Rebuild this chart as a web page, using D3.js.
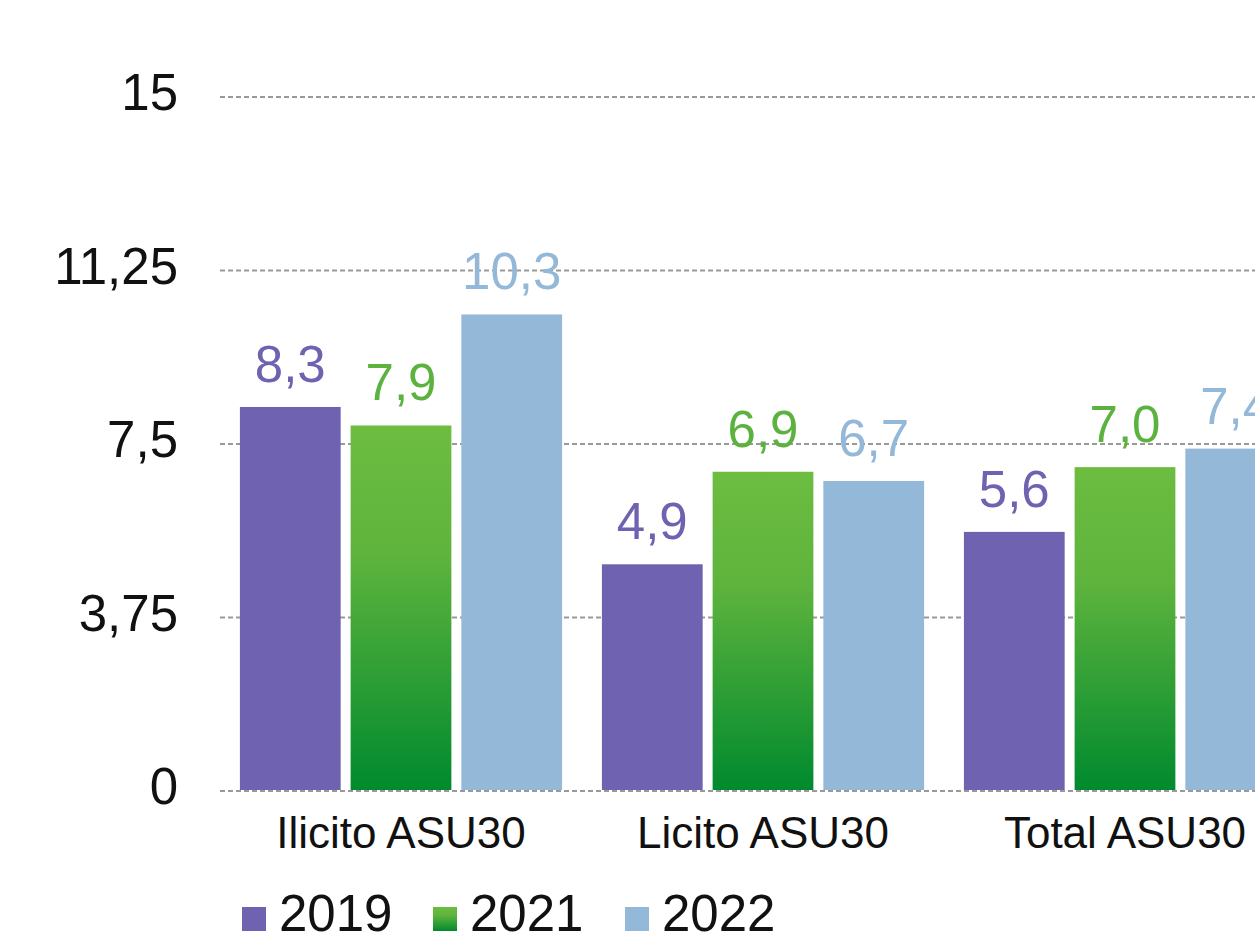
<!DOCTYPE html>
<html>
<head>
<meta charset="utf-8">
<script src="https://cdn.jsdelivr.net/npm/d3@7/dist/d3.min.js"></script>
<style>
  html, body { margin: 0; padding: 0; background: #fff; overflow: hidden; }
  text { font-family: "Liberation Sans", Arial, Helvetica, sans-serif; }
</style>
</head>
<body>
<div id="chart"></div>
<script>
// data
var categories = ["Ilicito ASU30", "Licito ASU30", "Total ASU30"];
var years = ["2019", "2021", "2022"];
var values2019 = [8.3, 4.9, 5.6];
var values2021 = [7.9, 6.9, 7.0];
var values2022 = [10.3, 6.7, 7.4];
var yTicks = [0, 3.75, 7.5, 11.25, 15];

var width = 1255, height = 934;
var fmt = d => String(d).replace(".", ",");
var fmt1 = d => d.toFixed(1).replace(".", ",");

var series = {"2019": values2019, "2021": values2021, "2022": values2022};
var colors = {"2019": "#6f62b0", "2021": "url(#greenGrad)", "2022": "#94b8d8"};
var textColors = {"2019": "#6f62b0", "2021": "#5cb23f", "2022": "#94b8d8"};

var rows = categories.map((c, i) => ({
    cat: c,
    vals: years.map(y => ({year: y, value: series[y][i]}))
}));

const svg = d3.select("#chart").append("svg")
    .attr("width", width)
    .attr("height", height);

const defs = svg.append("defs");
const grad = defs.append("linearGradient")
    .attr("id", "greenGrad")
    .attr("x1", 0).attr("y1", 0).attr("x2", 0).attr("y2", 1);
grad.append("stop").attr("offset", "0%").attr("stop-color", "#6cbd40");
grad.append("stop").attr("offset", "35%").attr("stop-color", "#5fb43d");
grad.append("stop").attr("offset", "100%").attr("stop-color", "#008a2e");

const y = d3.scaleLinear().domain([0, 15]).range([791, 97]);
const x0 = d3.scaleBand().domain(categories).range([220, 1306])
    .paddingInner(0.11).paddingOuter(0.055);
const x1 = d3.scaleBand().domain(years).range([0, x0.bandwidth()])
    .paddingInner(0.09).paddingOuter(0);

// grid
svg.append("g").selectAll("line")
    .data(yTicks)
    .join("line")
    .attr("x1", 220).attr("x2", width)
    .attr("y1", d => y(d)).attr("y2", d => y(d))
    .attr("stroke", "#999")
    .attr("stroke-width", 2)
    .attr("stroke-dasharray", "5,3");

// y tick labels
svg.append("g").selectAll("text")
    .data(yTicks)
    .join("text")
    .attr("x", 178)
    .attr("y", d => y(d) + 13)
    .attr("text-anchor", "end")
    .attr("font-size", 51)
    .attr("fill", "#111")
    .text(fmt);

// bars
const grp = svg.append("g").selectAll("g")
    .data(rows)
    .join("g")
    .attr("transform", d => `translate(${x0(d.cat)},0)`);

grp.selectAll("rect")
    .data(d => d.vals)
    .join("rect")
    .attr("x", d => x1(d.year))
    .attr("y", d => y(d.value))
    .attr("width", x1.bandwidth())
    .attr("height", d => y(0) - y(d.value) - 1)
    .attr("fill", d => colors[d.year]);

grp.selectAll("text.val")
    .data(d => d.vals)
    .join("text")
    .attr("class", "val")
    .attr("x", d => x1(d.year) + x1.bandwidth() / 2)
    .attr("y", d => y(d.value) - 25)
    .attr("text-anchor", "middle")
    .attr("font-size", 51)
    .attr("fill", d => textColors[d.year])
    .text(d => fmt1(d.value));

// category labels
svg.append("g").selectAll("text")
    .data(categories)
    .join("text")
    .attr("x", d => x0(d) + x0.bandwidth() / 2)
    .attr("y", 848)
    .attr("text-anchor", "middle")
    .attr("font-size", 44)
    .attr("fill", "#111")
    .text(d => d);

// legend
var legendX = [242, 433, 625];
const leg = svg.append("g").selectAll("g")
    .data(years)
    .join("g")
    .attr("transform", (d, i) => `translate(${legendX[i]},907)`);
leg.append("rect")
    .attr("width", 24).attr("height", 24)
    .attr("fill", d => colors[d]);
leg.append("text")
    .attr("x", 37)
    .attr("y", 24)
    .attr("font-size", 51)
    .attr("fill", "#111")
    .text(d => d);
</script>
</body>
</html>
